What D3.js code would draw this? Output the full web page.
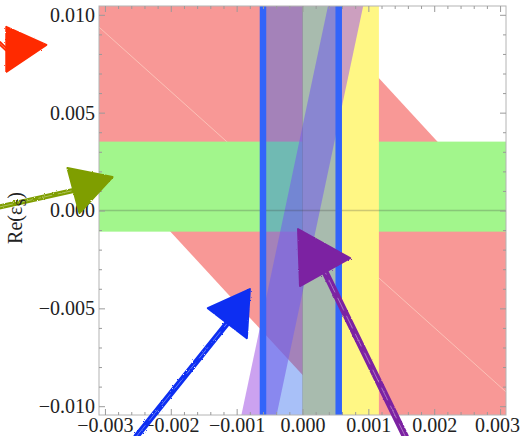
<!DOCTYPE html>
<html>
<head>
<meta charset="utf-8">
<script src="https://cdn.jsdelivr.net/npm/d3@7"></script>
<style>
  body { margin: 0; background: #fff; }
  svg { display: block; }
</style>
</head>
<body>
<div id="chart"></div>
<script>
// values
const xTicks = [-0.003, -0.002, -0.001, 0, 0.001, 0.002, 0.003];
const yTicks = [-0.010, -0.005, 0, 0.005, 0.010];
const xDomain = [-0.00309, 0.00309];
const yDomain = [-0.01045, 0.01045];

const greenBand = [-0.00108, 0.00352];   // y range, full width
const yellowBand = [0, 0.00116];         // x range, full height
const blueBand = [-0.0006, 0.00055];     // x range, edges drawn as thick lines
const redSlope = -3.65;                  // y = slope * x + c
const redIntercepts = [-0.0084, 0.0110];
const lavenderSlope = 15.9;
const lavenderIntercepts = [-0.0042, 0.0043];
const meshLine = [[-0.0031, 0.0094], [0.0031, -0.0093]];

// hand drawn arrows (tail, tip and the two back corners of the head)
const arrowColors = ["#ff2b00", "#7f9e00", "#0b2ff2", "#7c23a2"];
const arrowWidths = [4, 5, 6, 7];
const arrowTails = [[-0.004604, 0.008568], [-0.004604, 0.000179], [-0.002519, -0.011535], [0.00156, -0.011535]];
const arrowTips = [[-0.003889, 0.008465], [-0.002884, 0.001714], [-0.000799, -0.004015], [-0.000068, -0.000946]];
const arrowWingsA = [[-0.004498, 0.009386], [-0.003569, 0.002174], [-0.001438, -0.004987], [-0.000038, -0.003862]];
const arrowWingsB = [[-0.004498, 0.007084], [-0.003387, -0.000128], [-0.000845, -0.006522], [0.000723, -0.00243]];

const W = 520, H = 436;
const margin = {top: 6, right: 14, bottom: 21, left: 99};
const width = W - margin.left - margin.right;
const height = H - margin.top - margin.bottom;

const x = d3.scaleLinear().domain(xDomain).range([0, width]);
const y = d3.scaleLinear().domain(yDomain).range([height, 0]);
const fmt = d3.format(".3f");
const serif = '"Liberation Serif", "DejaVu Serif", serif';

const svg = d3.select("#chart").append("svg")
  .attr("width", W)
  .attr("height", H);

svg.append("defs").append("clipPath")
  .attr("id", "plotClip")
  .append("rect")
  .attr("width", width)
  .attr("height", height);

const rough = svg.select("defs").append("filter")
  .attr("id", "rough")
  .attr("x", "-20%").attr("y", "-20%")
  .attr("width", "140%").attr("height", "140%");
rough.append("feTurbulence")
  .attr("type", "fractalNoise")
  .attr("baseFrequency", 0.9)
  .attr("numOctaves", 1)
  .attr("result", "noise");
rough.append("feDisplacementMap")
  .attr("in", "SourceGraphic")
  .attr("in2", "noise")
  .attr("scale", 2.5);

const main = svg.append("g")
  .attr("transform", "translate(" + margin.left + "," + margin.top + ")");

const plot = main.append("g").attr("clip-path", "url(#plotClip)");

// band between two parallel lines y = s*x + c
function band(slope, cs) {
  const pts = [];
  const xs = [-0.02, 0.02];
  if (Math.abs(slope) < 5) {
    pts.push([xs[0], slope * xs[0] + cs[0]], [xs[1], slope * xs[1] + cs[0]],
             [xs[1], slope * xs[1] + cs[1]], [xs[0], slope * xs[0] + cs[1]]);
  } else {
    const ys = [-0.03, 0.03];
    pts.push([(ys[0] - cs[0]) / slope, ys[0]], [(ys[1] - cs[0]) / slope, ys[1]],
             [(ys[1] - cs[1]) / slope, ys[1]], [(ys[0] - cs[1]) / slope, ys[0]]);
  }
  return pts.map(p => [x(p[0]), y(p[1])].join(",")).join(" ");
}

// red diagonal band
plot.append("polygon")
  .attr("points", band(redSlope, redIntercepts))
  .style("fill", "#f89896");

plot.append("line")
  .attr("x1", x(meshLine[0][0])).attr("y1", y(meshLine[0][1]))
  .attr("x2", x(meshLine[1][0])).attr("y2", y(meshLine[1][1]))
  .style("stroke", "rgba(255,225,210,0.55)")
  .style("stroke-width", 1);

// green horizontal band
plot.append("rect")
  .attr("x", 0).attr("width", width)
  .attr("y", y(greenBand[1]))
  .attr("height", y(greenBand[0]) - y(greenBand[1]))
  .style("fill", "#a2f68c");

// yellow vertical band
plot.append("rect")
  .attr("x", x(yellowBand[0]))
  .attr("width", x(yellowBand[1]) - x(yellowBand[0]))
  .attr("y", 0).attr("height", height)
  .style("fill", "#fff784");

// lavender slanted band
plot.append("polygon")
  .attr("points", band(lavenderSlope, lavenderIntercepts))
  .style("fill", "rgba(170,100,230,0.6)");

// light blue band between the two thick lines
plot.append("rect")
  .attr("x", x(blueBand[0]))
  .attr("width", x(blueBand[1]) - x(blueBand[0]))
  .attr("y", 0).attr("height", height)
  .style("fill", "rgba(37,97,237,0.4)");

// zero axes
plot.append("line")
  .attr("x1", 0).attr("x2", width)
  .attr("y1", y(0)).attr("y2", y(0))
  .style("stroke", "rgba(60,60,60,0.25)")
  .style("stroke-width", 1.5);
plot.append("line")
  .attr("x1", x(0)).attr("x2", x(0))
  .attr("y1", 0).attr("y2", height)
  .style("stroke", "rgba(60,60,60,0.12)")
  .style("stroke-width", 1);

// frame
main.append("rect")
  .attr("width", width).attr("height", height)
  .style("fill", "none")
  .style("stroke", "#b4b4b4")
  .style("stroke-width", 1);

const xMinor = d3.range(-15, 16).filter(i => i % 5 !== 0).map(i => i * 0.0002);
const yMinor = d3.range(-10, 11).filter(i => i % 5 !== 0).map(i => i * 0.001);

function styleAxis(g) {
  g.select(".domain").remove();
  g.attr("font-family", serif).attr("font-size", 20);
  g.selectAll(".tick line").style("stroke", "#9a9a9a");
  g.selectAll("text")
    .style("font-family", serif)
    .style("font-size", "20px")
    .style("fill", "#222");
}

const xAxisG = main.append("g")
  .attr("transform", "translate(0," + height + ")")
  .call(d3.axisBottom(x).tickValues(xTicks).tickSize(-6).tickPadding(3).tickFormat(fmt))
  .call(styleAxis);
// keep the last label inside the window, as in the source
xAxisG.selectAll(".tick text").filter(d => d === xTicks[xTicks.length - 1]).attr("dx", -3);

main.append("g")
  .attr("transform", "translate(0," + height + ")")
  .call(d3.axisBottom(x).tickValues(xMinor).tickSize(-3).tickFormat(""))
  .call(styleAxis);
main.append("g")
  .call(d3.axisTop(x).tickValues(xTicks).tickSize(-6).tickFormat(""))
  .call(styleAxis);
main.append("g")
  .call(d3.axisTop(x).tickValues(xMinor).tickSize(-3).tickFormat(""))
  .call(styleAxis);
main.append("g")
  .call(d3.axisLeft(y).tickValues(yTicks).tickSize(-6).tickPadding(4).tickFormat(fmt))
  .call(styleAxis);
main.append("g")
  .call(d3.axisLeft(y).tickValues(yMinor).tickSize(-3).tickFormat(""))
  .call(styleAxis);
main.append("g")
  .attr("transform", "translate(" + width + ",0)")
  .call(d3.axisRight(y).tickValues(yTicks).tickSize(-6).tickFormat(""))
  .call(styleAxis);
main.append("g")
  .attr("transform", "translate(" + width + ",0)")
  .call(d3.axisRight(y).tickValues(yMinor).tickSize(-3).tickFormat(""))
  .call(styleAxis);

// y axis label
const ylab = svg.append("text")
  .attr("transform", "translate(22,218) rotate(-90)")
  .attr("text-anchor", "middle")
  .style("font-family", serif)
  .style("font-size", "20px")
  .style("fill", "#222");
ylab.append("tspan").text("Re(ε");
ylab.append("tspan").attr("dy", "0.3em").style("font-size", "14px").text("S");
ylab.append("tspan").attr("dy", "-0.2em").text(")");

function drawArrow(i) {
  const g = main.append("g").attr("filter", "url(#rough)");
  const t0 = [x(arrowTails[i][0]), y(arrowTails[i][1])];
  const t1 = [x(arrowTips[i][0]), y(arrowTips[i][1])];
  const a = [x(arrowWingsA[i][0]), y(arrowWingsA[i][1])];
  const b = [x(arrowWingsB[i][0]), y(arrowWingsB[i][1])];
  const base = [(a[0] + b[0]) / 2, (a[1] + b[1]) / 2];
  g.append("line")
    .attr("x1", t0[0]).attr("y1", t0[1])
    .attr("x2", base[0]).attr("y2", base[1])
    .style("stroke", arrowColors[i])
    .style("stroke-width", arrowWidths[i])
    .style("stroke-linecap", "round");
  g.append("line")
    .attr("x1", t0[0]).attr("y1", t0[1])
    .attr("x2", base[0]).attr("y2", base[1])
    .style("stroke", "rgba(255,255,255,0.45)")
    .style("stroke-width", 0.8)
    .style("stroke-dasharray", "14 6");
  g.append("polygon")
    .attr("points", [t1, a, b].map(p => p.join(",")).join(" "))
    .style("fill", arrowColors[i])
    .style("stroke", arrowColors[i])
    .style("stroke-width", 2)
    .style("stroke-linejoin", "round");
}

// the purple arrow sits under the right blue line
drawArrow(3);

plot.selectAll(".edge")
  .data(blueBand)
  .enter()
  .append("line")
  .attr("class", "edge")
  .attr("x1", d => x(d)).attr("x2", d => x(d))
  .attr("y1", 0).attr("y2", height)
  .style("stroke", "#3264fa")
  .style("stroke-width", 6.5);

drawArrow(0);
drawArrow(1);
drawArrow(2);
</script>
</body>
</html>
